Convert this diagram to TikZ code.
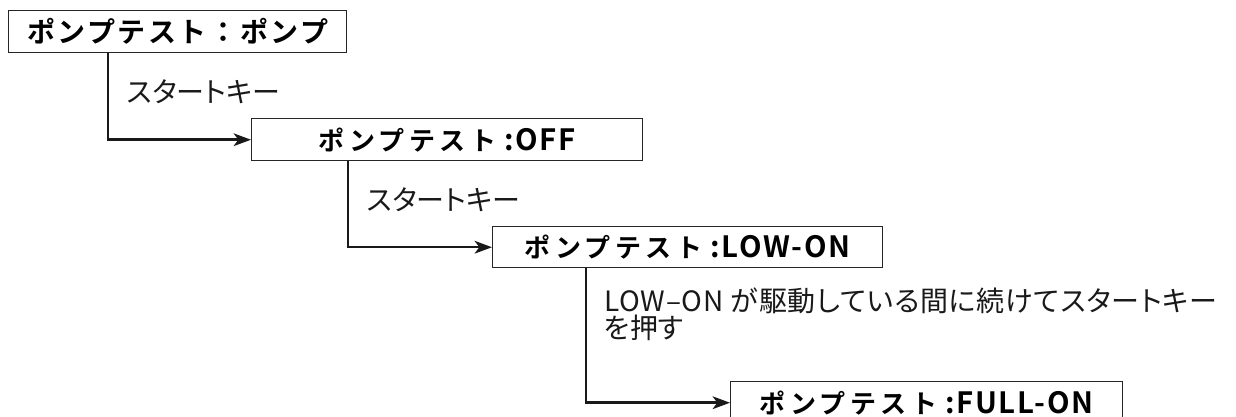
\documentclass[tikz,border=0pt]{standalone}
\usepackage{fontspec}
\usetikzlibrary{arrows.meta,calc}
\newfontfamily\jp{Noto Sans CJK JP}[RawFeature=+palt]
\newfontfamily\jpwide{Noto Sans CJK JP}[RawFeature=+palt,LetterSpace=3]
\newfontfamily\jpbold{Noto Sans CJK JP Bold}[LetterSpace=17]
\newfontfamily\latbold{Noto Sans CJK JP Bold}[LetterSpace=6]
\newfontfamily\jpboldA{Noto Sans CJK JP Bold}[LetterSpace=9]
\newcommand\kana[1]{{\jpbold\fontsize{19.5pt}{20pt}\selectfont #1}}
\newcommand\latn[1]{{\latbold\fontsize{22pt}{22pt}\selectfont #1}}
\tikzset{
  stbox/.style={draw=black!85, line width=1.1pt, fill=white, inner sep=0pt, anchor=north west},
  conn/.style={line width=1.9pt, black!90, -{Stealth[length=13pt,width=9.5pt,inset=3.5pt]}},
  lbl/.style={anchor=west, inner sep=0pt, font=\jp\fontsize{21pt}{22pt}\selectfont, text=black!90, align=left},
}
\begin{document}
\begin{tikzpicture}[x=0.75pt,y=-0.75pt]
\useasboundingbox (0,0) rectangle (1236,417);
\node[stbox, minimum width=338*0.75pt, minimum height=42*0.75pt, font=\jpboldA\fontsize{21pt}{22pt}\selectfont] (b1) at (8,10) {ポンプテスト：ポンプ};
\node[stbox, minimum width=391*0.75pt, minimum height=42*0.75pt] (b2) at (251,118) {\kana{ポンプテスト}\hspace{6pt}\latn{:OFF}};
\node[stbox, minimum width=390*0.75pt, minimum height=41*0.75pt] (b3) at (492,226) {\kana{ポンプテスト}\hspace{6pt}\latn{:LOW-ON}};
\node[stbox, minimum width=392*0.75pt, minimum height=42*0.75pt] (b4) at (730,381) {\kana{ポンプテスト}\hspace{6pt}\latn{:FULL-ON}};
\coordinate (c1) at ($(b1.south west)+(100,0)$);
\coordinate (c2) at ($(b2.south west)+(97,0)$);
\coordinate (c3) at ($(b3.south west)+(94,0)$);
\draw[conn] (c1) |- (b2.west);
\draw[conn] (c2) |- (b3.west);
\draw[conn] (c3) |- (b4.west);
\node[lbl] (l1) at (127,92) {スタートキー};
\node[lbl] (l2) at (367,200) {スタートキー};
\node[lbl, font=\jpwide\fontsize{21pt}{22pt}\selectfont] (l3) at (604,301) {LOW–ON が駆動している間に続けてスタートキー};
\node[lbl] (l4) at (604,328) {を押す};
\end{tikzpicture}
\end{document}
